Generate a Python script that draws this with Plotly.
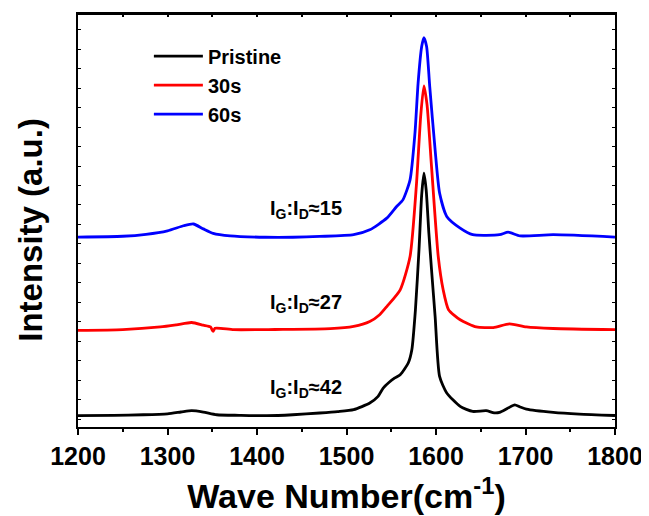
import plotly.graph_objects as go

# Wave numbers (cm^-1) and intensities (a.u.)
wn_pristine = [1200, 1240, 1273, 1300, 1315, 1327, 1340, 1355, 1380, 1411, 1440, 1470, 1490, 1508, 1526, 1535,
               1541, 1548, 1554, 1560, 1569, 1573, 1577, 1581, 1584, 1586.5, 1589, 1592, 1595, 1599, 1604,
               1612, 1627, 1641, 1656, 1665, 1671, 1680, 1688, 1694, 1701, 1731, 1760, 1800]
int_pristine = [0.17, 0.19, 0.22, 0.27, 0.36, 0.43, 0.36, 0.22, 0.19, 0.17, 0.22, 0.31, 0.38, 0.48, 0.82, 1.15,
                1.59, 1.90, 2.11, 2.28, 2.88, 3.56, 5.61, 8.70, 11.52, 12.63, 11.78, 9.57, 7.67, 5.27, 2.19,
                1.34, 0.65, 0.39, 0.43, 0.32, 0.34, 0.55, 0.73, 0.62, 0.51, 0.34, 0.25, 0.18]

wn_30s = [1200, 1250, 1292, 1310, 1327, 1340, 1348, 1351, 1353, 1374, 1420, 1482, 1508, 1526, 1537, 1545,
          1560, 1571, 1578, 1583, 1586.5, 1590, 1595, 1602.5, 1608, 1614, 1627, 1645, 1664, 1682, 1701,
          1731, 1800]
int_30s = [4.55, 4.59, 4.73, 4.84, 4.96, 4.82, 4.73, 4.50, 4.66, 4.59, 4.60, 4.64, 4.76, 5.01, 5.36, 5.78,
           6.64, 8.35, 11.95, 15.63, 17.12, 16.14, 12.97, 8.35, 6.64, 5.62, 5.10, 4.73, 4.70, 4.89, 4.73,
           4.65, 4.59]

wn_60s = [1200, 1250, 1276, 1300, 1318, 1329, 1340, 1351, 1370, 1409, 1440, 1470, 1508, 1526, 1545, 1556,
          1563, 1571, 1576.5, 1580, 1584, 1586.5, 1589.5, 1593, 1599, 1604, 1612, 1627, 1641, 1671, 1680.6,
          1694, 1731, 1800]
int_60s = [9.35, 9.39, 9.49, 9.67, 9.93, 10.02, 9.77, 9.54, 9.41, 9.34, 9.34, 9.38, 9.47, 9.72, 10.32, 10.92,
           11.26, 12.29, 14.69, 17.26, 19.14, 19.60, 19.14, 17.08, 13.83, 11.61, 10.41, 9.81, 9.47, 9.47, 9.60,
           9.41, 9.47, 9.35]

series_names = ["Pristine", "30s", "60s"]
series_colors = ["#000000", "#ff0000", "#0000ff"]
# the 60s spectrum is drawn against the (identical) top axis so that axis is rendered
series_xaxes = ["x", "x", "x2"]

ratio_labels = ["I<sub>G</sub>:I<sub>D</sub>≈42", "I<sub>G</sub>:I<sub>D</sub>≈27", "I<sub>G</sub>:I<sub>D</sub>≈15"]
ratio_x = [1455, 1455, 1455]
ratio_y = [1.56, 5.92, 10.75]

x_range = [1200, 1800]
y_range = [-0.41, 20.81]

FONT = "Liberation Sans, Arial, Helvetica, sans-serif"

fig = go.Figure()
for wn, inten, name, col, xa in zip([wn_pristine, wn_30s, wn_60s], [int_pristine, int_30s, int_60s],
                                    series_names, series_colors, series_xaxes):
    fig.add_trace(go.Scatter(x=wn, y=inten, mode="lines", name=name, xaxis=xa,
                             line=dict(color=col, width=2.8, shape="spline", smoothing=0.6)))

for txt, xv, yv in zip(ratio_labels, ratio_x, ratio_y):
    fig.add_annotation(x=xv, y=yv, text=txt, showarrow=False, xanchor="center", yanchor="middle",
                       font=dict(family=FONT, size=20, color="black", weight="bold"))

# y-axis title as a rotated annotation (sits slightly below the plot centre in the reference)
fig.add_annotation(x=-0.089, y=0.478, xref="paper", yref="paper", text="Intensity (a.u.)",
                   textangle=-90, showarrow=False, xanchor="center", yanchor="middle",
                   font=dict(family=FONT, size=33, color="black", weight="bold"))

# top frame line of the plot box
fig.add_shape(type="line", xref="paper", yref="paper", x0=0, x1=1, y0=1, y1=1,
              line=dict(color="black", width=2), layer="above")

# page body has an 8px default margin, so the figure is sized/offset to compensate
fig.update_layout(
    width=641, height=508,
    margin=dict(l=70, r=34, t=6, b=89),
    paper_bgcolor="white", plot_bgcolor="white",
    font=dict(family=FONT, color="black", weight="bold"),
    legend=dict(x=0.132, y=0.945, xanchor="left", yanchor="top", bgcolor="rgba(0,0,0,0)",
                font=dict(family=FONT, size=20, weight="bold"), tracegroupgap=0, itemwidth=49),
    showlegend=True,
    xaxis=dict(range=x_range, dtick=100, tick0=1200, ticks="outside", ticklen=6, tickwidth=1.5,
               tickcolor="black", showline=True, linewidth=2, linecolor="black", mirror=False,
               showgrid=False, zeroline=False, automargin=False,
               minor=dict(dtick=50, tick0=1200, ticks="outside", ticklen=3, tickcolor="black", showgrid=False),
               tickfont=dict(family=FONT, size=25, weight="bold"),
               title=dict(text="Wave Number(cm<sup>-1</sup>)", standoff=15,
                          font=dict(family=FONT, size=34, weight="bold"))),
    xaxis2=dict(range=x_range, overlaying="x", side="top", anchor="y", dtick=50, tick0=1200,
                ticks="inside", ticklen=3, tickwidth=1.5, tickcolor="black", showticklabels=False,
                showgrid=False, zeroline=False, showline=True, linewidth=2, linecolor="black",
                automargin=False),
    yaxis=dict(range=y_range, dtick=1, tick0=0, ticks="inside", ticklen=3, tickwidth=1,
               tickcolor="black", showticklabels=False, showline=True, linewidth=2,
               linecolor="black", mirror="ticks", showgrid=False, zeroline=False, automargin=False),
)

fig.write_html("out.html")
